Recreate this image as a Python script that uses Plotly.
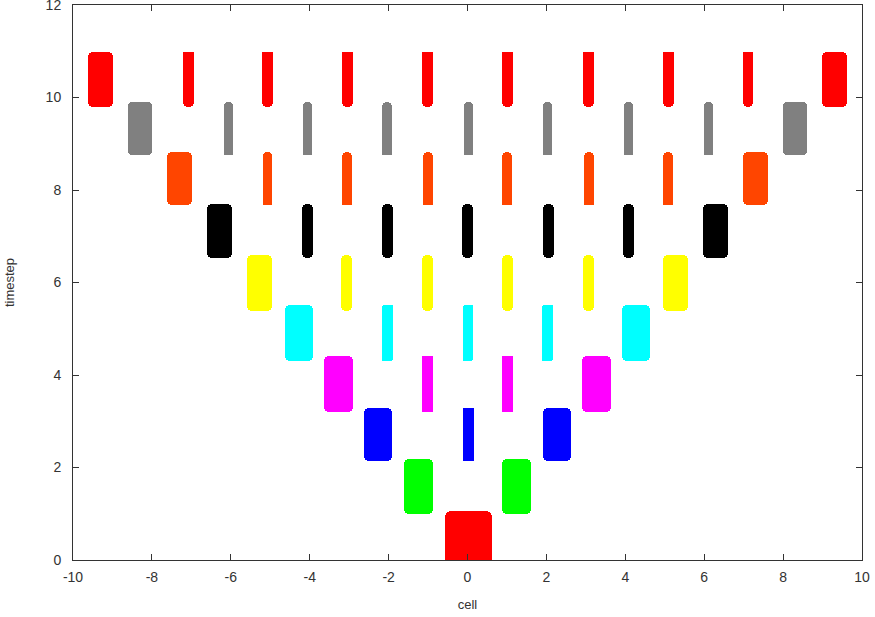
import plotly.graph_objects as go

# ---- data ----
row_colors = ['#ff0000', '#00ff00', '#0000ff', '#ff00ff', '#00ffff',
              '#ffff00', '#000000', '#ff4500', '#808080', '#ff0000']
row_bottom = [-0.05, 1.00, 2.13, 3.21, 4.31, 5.39, 6.53, 7.68, 8.76, 9.79]
row_top = [1.07, 2.19, 3.28, 4.41, 5.51, 6.60, 7.69, 8.83, 9.91, 10.98]

# outer blobs (mirrored left/right; row 0 has a single central blob)
outer_center = [0.02, 1.25, 2.26, 3.27, 4.27, 5.28, 6.29, 7.30, 8.30, 9.31]
outer_width = [1.19, 0.73, 0.71, 0.72, 0.70, 0.64, 0.64, 0.65, 0.61, 0.64]

# inner blobs
inner_centers = [
    [],
    [],
    [0.02],
    [-1.02, 1.02],
    [-2.03, 0.01, 2.03],
    [-3.06, -1.01, 1.01, 3.06],
    [-4.06, -2.03, 0.01, 2.06, 4.07],
    [-5.07, -3.05, -1.01, 1.01, 3.07, 5.09],
    [-6.07, -4.06, -2.04, 0.02, 2.03, 4.08, 6.10],
    [-7.08, -5.07, -3.04, -1.01, 1.01, 3.07, 5.09, 7.11],
]
inner_width = [0, 0, 0.28, 0.29, 0.27, 0.28, 0.28, 0.25, 0.23, 0.27]

x_ticks = [-10, -8, -6, -4, -2, 0, 2, 4, 6, 8, 10]
y_ticks = [0, 2, 4, 6, 8, 10, 12]

# ---- styles ----
outer_round = ['14%'] + ['20%'] * 9
outer_flat = ['bottom'] + [None] * 9
inner_round = ['0%', '0%', '8%', '8%', '20%', '50%', '50%', '50%', '50%', '50%']
inner_flat = [None, None, None, None, None, None, None, 'bottom', 'bottom', 'top']

fig = go.Figure()


def add_blobs(xs, w, y0, y1, color, r, flat):
    if not xs:
        return
    n = len(xs)
    fig.add_trace(go.Bar(x=xs, base=[y0] * n, y=[y1 - y0] * n,
                         width=[w] * n,
                         marker=dict(color=color, line=dict(width=0), cornerradius=r),
                         showlegend=False, hoverinfo='skip'))
    if flat is not None:
        mid = (y0 + y1) / 2
        lo, hi = (y0, mid) if flat == 'bottom' else (mid, y1)
        fig.add_trace(go.Bar(x=xs, base=[lo] * n, y=[hi - lo] * n,
                             width=[w] * n,
                             marker=dict(color=color, line=dict(width=0), cornerradius=0),
                             showlegend=False, hoverinfo='skip'))


for k in range(10):
    c = row_colors[k]
    if k == 0:
        oxs = [outer_center[0]]
    else:
        oxs = [-outer_center[k], outer_center[k]]
    add_blobs(oxs, outer_width[k], row_bottom[k], row_top[k], c,
              outer_round[k], outer_flat[k])
    add_blobs(inner_centers[k], inner_width[k], row_bottom[k], row_top[k], c,
              inner_round[k], inner_flat[k])

tick_font = dict(family='Liberation Sans, Arial', size=14, color='#333333')
title_font = dict(family='Liberation Sans, Arial', size=13, color='#333333')
axis_common = dict(showgrid=False, zeroline=False, showline=True, linecolor='#333333',
                   linewidth=1, mirror='ticks', ticks='inside', ticklen=6,
                   tickcolor='#333333', tickwidth=1, automargin=False,
                   ticklabeloverflow='allow', tickfont=tick_font)

fig.update_layout(
    width=875, height=617,
    margin=dict(l=73, r=13, t=5, b=57),
    paper_bgcolor='white', plot_bgcolor='white',
    barmode='overlay', bargap=0,
    xaxis=dict(range=[-10, 10], tickvals=x_ticks, ticktext=[str(v) for v in x_ticks],
               ticklabelstandoff=4,
               title=dict(text='cell', font=title_font, standoff=16),
               **axis_common),
    yaxis=dict(range=[0, 12], tickvals=y_ticks, ticktext=[str(v) for v in y_ticks],
               ticklabelstandoff=8,
               title=dict(text='timestep', font=title_font, standoff=28),
               **axis_common),
)

fig.write_html("out.html", config={'displayModeBar': False},
               post_script="document.body.style.margin='0';")
